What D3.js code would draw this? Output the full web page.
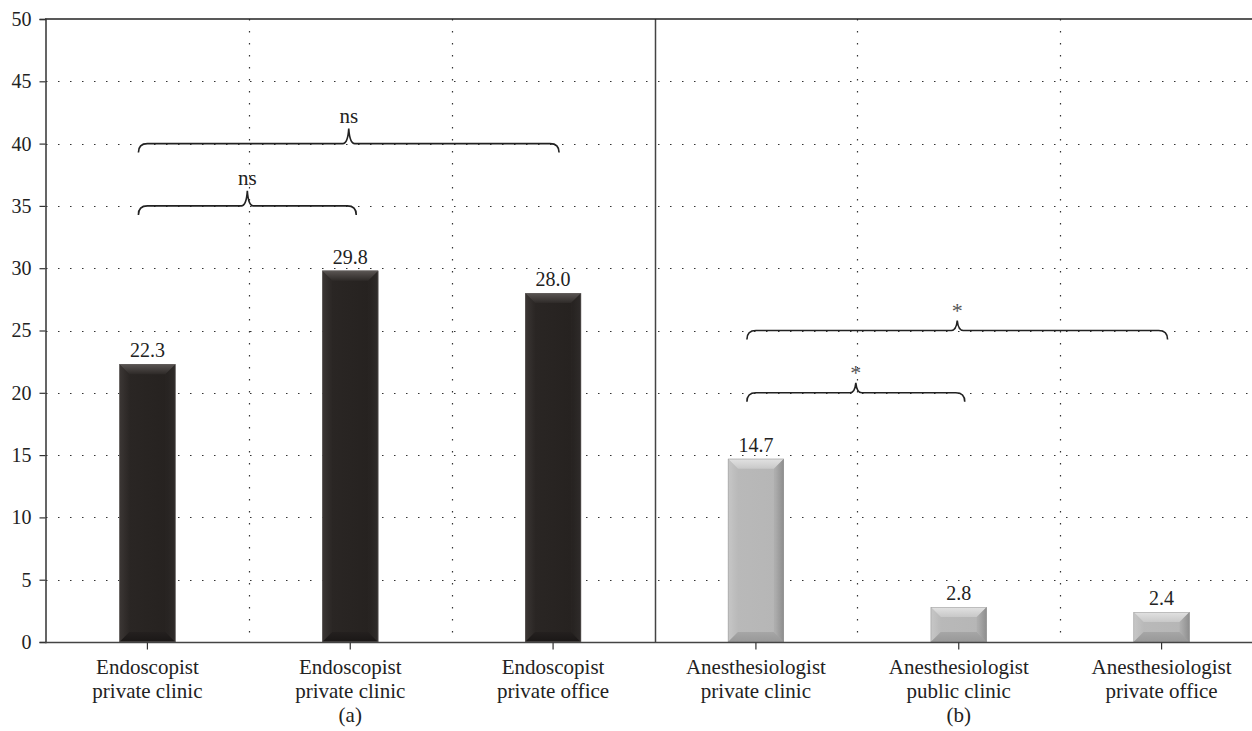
<!DOCTYPE html>
<html>
<head>
<meta charset="utf-8">
<script src="https://d3js.org/d3.v7.min.js"></script>
</head>
<body style="margin:0; background:#fff">
<div id="chart"></div>
<script>
// data
var categories = ["c1", "c2", "c3", "c4", "c5", "c6"];
var labelLine1 = ["Endoscopist", "Endoscopist", "Endoscopist", "Anesthesiologist", "Anesthesiologist", "Anesthesiologist"];
var labelLine2 = ["private clinic", "private clinic", "private office", "private clinic", "public clinic", "private office"];
var values = [22.3, 29.8, 28.0, 14.7, 2.8, 2.4];
var valueLabels = ["22.3", "29.8", "28.0", "14.7", "2.8", "2.4"];
var groupOf = ["a", "a", "a", "b", "b", "b"];
var panels = ["(a)", "(b)"];
var yTicks = [0, 5, 10, 15, 20, 25, 30, 35, 40, 45, 50];
// significance braces: from category, to category, level, label
var braceFrom = [0, 0, 3, 3];
var braceTo = [2, 1, 5, 4];
var braceLevel = [40, 35, 25, 20];
var braceText = ["ns", "ns", "*", "*"];

var FONT = "'Liberation Serif', 'Times New Roman', serif";
var W = 1252, H = 731;
var svg = d3.select("#chart").append("svg")
  .attr("width", W).attr("height", H);

var y = d3.scaleLinear().domain([0, 50]).range([642, 19]);
var x = d3.scaleBand().domain(categories).range([46, 1263]).padding(0);
var barW = 56;
function cx(i) { return x(categories[i]) + x.bandwidth() / 2; }

// gradients
var defs = svg.append("defs");
function grad(id, vertical, stops) {
  var g = defs.append("linearGradient").attr("id", id)
    .attr("x1", "0").attr("y1", "0")
    .attr("x2", vertical ? "0" : "1").attr("y2", vertical ? "1" : "0");
  stops.forEach(function(s) { g.append("stop").attr("offset", s[0]).attr("stop-color", s[1]); });
}
grad("darkBody", false, [[0, "#3a3533"], [0.15, "#2a2624"], [0.85, "#262220"], [1, "#4a4644"]]);
grad("darkTop", true, [[0, "#5a5553"], [1, "#2e2a28"]]);
grad("darkLeft", false, [[0, "#3d3836"], [1, "#2c2826"]]);
grad("darkRight", false, [[0, "#2a2624"], [1, "#1c1918"]]);
grad("darkBottom", true, [[0, "#24201f"], [1, "#1a1716"]]);
grad("grayBody", false, [[0, "#c2c2c2"], [0.15, "#b9b9b9"], [0.85, "#b6b6b6"], [1, "#8e8e8e"]]);
grad("grayTop", true, [[0, "#e2e2e2"], [1, "#c8c8c8"]]);
grad("grayLeft", false, [[0, "#cacaca"], [1, "#bababa"]]);
grad("grayRight", false, [[0, "#aaaaaa"], [1, "#8c8c8c"]]);
grad("grayBottom", true, [[0, "#a6a6a6"], [1, "#989898"]]);

// horizontal dotted grid
svg.append("g").selectAll("line")
  .data(yTicks.filter(function(t) { return t > 0 && t < 50; }))
  .join("line")
  .attr("x1", 46).attr("x2", W)
  .attr("y1", function(d) { return Math.round(y(d)) + 0.5; })
  .attr("y2", function(d) { return Math.round(y(d)) + 0.5; })
  .attr("stroke", "#333").attr("stroke-width", 1.2)
  .attr("stroke-dasharray", "1.5,10.5");

// vertical dotted dividers between categories (within panels)
var innerBounds = [1, 2, 4, 5];
svg.append("g").selectAll("line")
  .data(innerBounds)
  .join("line")
  .attr("x1", function(i) { return Math.round(x(categories[i])) + 0.5; })
  .attr("x2", function(i) { return Math.round(x(categories[i])) + 0.5; })
  .attr("y1", y(50)).attr("y2", y(0))
  .attr("stroke", "#333").attr("stroke-width", 1.2)
  .attr("stroke-dasharray", "1.5,10.5");

// solid panel divider
var midX = Math.round(x(categories[3])) + 0.5;
svg.append("line")
  .attr("x1", midX).attr("x2", midX).attr("y1", y(50)).attr("y2", y(0))
  .attr("stroke", "#444").attr("stroke-width", 1.5);

// top border
svg.append("line")
  .attr("x1", 45).attr("x2", W).attr("y1", y(50)).attr("y2", y(50))
  .attr("stroke", "#222").attr("stroke-width", 1.5);

// bars with bevel
var bars = svg.append("g");
values.forEach(function(v, i) {
  var dark = groupOf[i] === "a";
  var p = dark ? "dark" : "gray";
  var x0 = cx(i) - barW / 2, x1 = x0 + barW;
  var y0 = y(v), y1 = y(0);
  var b = Math.min(10, (y1 - y0) / 2);
  var g = bars.append("g");
  g.append("rect").attr("x", x0).attr("y", y0).attr("width", barW).attr("height", y1 - y0)
    .attr("fill", "url(#" + p + "Body)");
  g.append("path").attr("d", "M" + x0 + "," + y0 + "L" + x1 + "," + y0 + "L" + (x1 - b) + "," + (y0 + b) + "L" + (x0 + b) + "," + (y0 + b) + "Z")
    .attr("fill", "url(#" + p + "Top)");
  g.append("path").attr("d", "M" + x0 + "," + y0 + "L" + (x0 + b) + "," + (y0 + b) + "L" + (x0 + b) + "," + (y1 - b) + "L" + x0 + "," + y1 + "Z")
    .attr("fill", "url(#" + p + "Left)").attr("opacity", 0.6);
  g.append("path").attr("d", "M" + x1 + "," + y0 + "L" + (x1 - b) + "," + (y0 + b) + "L" + (x1 - b) + "," + (y1 - b) + "L" + x1 + "," + y1 + "Z")
    .attr("fill", "url(#" + p + "Right)").attr("opacity", 0.6);
  g.append("path").attr("d", "M" + x0 + "," + y1 + "L" + x1 + "," + y1 + "L" + (x1 - b) + "," + (y1 - b) + "L" + (x0 + b) + "," + (y1 - b) + "Z")
    .attr("fill", "url(#" + p + "Bottom)");
  g.append("rect").attr("x", x0 + 0.25).attr("y", y0 + 0.25).attr("width", barW - 0.5).attr("height", y1 - y0 - 0.5)
    .attr("fill", "none").attr("stroke", dark ? "#6a6664" : "#9a9a9a").attr("stroke-width", 0.5);
});

// value labels
svg.append("g").selectAll("text")
  .data(values)
  .join("text")
  .attr("x", function(d, i) { return cx(i); })
  .attr("y", function(d) { return y(d) - 7; })
  .attr("text-anchor", "middle")
  .attr("fill", "#222")
  .style("font-family", FONT)
  .style("font-size", "20px")
  .text(function(d, i) { return valueLabels[i]; });

// y axis
var yAxis = svg.append("g").attr("transform", "translate(45.5,0)")
  .call(d3.axisLeft(y).tickValues(yTicks).tickSize(6).tickPadding(8).tickFormat(d3.format("d")));
yAxis.select(".domain").attr("stroke", "#333").attr("stroke-width", 1.5);
yAxis.selectAll(".tick line").attr("stroke", "#333").attr("stroke-width", 1.2);
yAxis.selectAll(".tick text").attr("fill", "#222")
  .style("font-family", FONT).style("font-size", "20px");

// x axis
var xAxis = svg.append("g").attr("transform", "translate(0," + (y(0) + 0.5) + ")")
  .call(d3.axisBottom(x).tickSize(7).tickFormat(""));
xAxis.select(".domain").attr("stroke", "#444").attr("stroke-width", 1.5).attr("d", "M45,0H" + W);
xAxis.selectAll(".tick line").attr("stroke", "#333").attr("stroke-width", 1.2);

// category labels
var labs = svg.append("g");
function label(tx, ty, s) {
  labs.append("text").attr("x", tx).attr("y", ty).attr("text-anchor", "middle").attr("fill", "#222")
    .style("font-family", FONT).style("font-size", "21px").text(s);
}
categories.forEach(function(c, i) {
  label(cx(i), 674, labelLine1[i]);
  label(cx(i), 698, labelLine2[i]);
});
panels.forEach(function(p, k) {
  label(cx(k * 3 + 1), 722, p);
});

// braces
var br = svg.append("g");
braceFrom.forEach(function(f, k) {
  var star = braceText[k] === "*";
  var xa = cx(f) - 9, xb = cx(braceTo[k]) + 6;
  var xm = (xa + xb) / 2;
  var yy = y(braceLevel[k]);
  var cusp = star ? 10 : 15;
  var d = "M" + xa + "," + (yy + 9) +
    "Q" + xa + "," + yy + " " + (xa + 9) + "," + yy +
    "L" + (xm - 6) + "," + yy +
    "Q" + (xm - 1) + "," + yy + " " + xm + "," + (yy - cusp) +
    "Q" + (xm + 1) + "," + yy + " " + (xm + 6) + "," + yy +
    "L" + (xb - 9) + "," + yy +
    "Q" + xb + "," + yy + " " + xb + "," + (yy + 9);
  br.append("path").attr("d", d).attr("fill", "none").attr("stroke", "#222").attr("stroke-width", 1.6);
  br.append("text").attr("x", xm).attr("y", yy - (star ? 13 : 21))
    .attr("text-anchor", "middle")
    .attr("fill", star ? "#555" : "#222")
    .style("font-family", FONT)
    .style("font-size", star ? "22px" : "21px")
    .text(braceText[k]);
});
</script>
</body>
</html>
